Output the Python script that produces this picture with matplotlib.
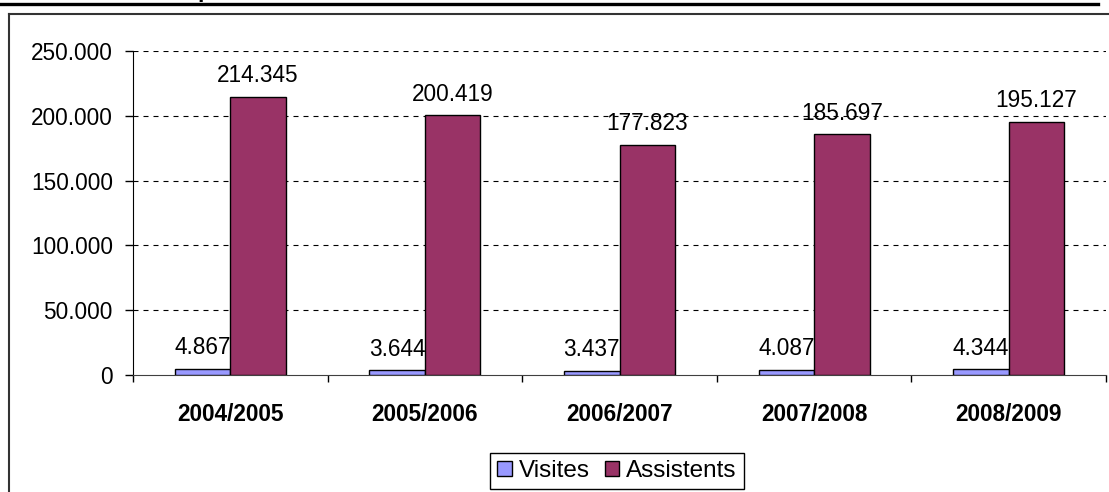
import matplotlib
matplotlib.use("Agg")
import matplotlib.pyplot as plt
from matplotlib.lines import Line2D
from matplotlib.ticker import FuncFormatter, FixedLocator
import numpy as np

# data
seasons = ["2004/2005", "2005/2006", "2006/2007", "2007/2008", "2008/2009"]
visites = [4867, 3644, 3437, 4087, 4344]
assistents = [214345, 200419, 177823, 185697, 195127]

col_vis = "#9999FF"
col_ass = "#993366"

plt.rcParams["font.family"] = ["Liberation Sans", "DejaVu Sans"]
fs = 16.3

fig = plt.figure(figsize=(11.09, 4.92), dpi=100)
ax = fig.add_axes([133 / 1109, 117 / 492, 973 / 1109, 324 / 492])

x = np.arange(len(seasons))
w = 0.285
b1 = ax.bar(x, visites, -w, align="edge", color=col_vis, edgecolor="black", linewidth=1, label="Visites", zorder=3)
b2 = ax.bar(x, assistents, w, align="edge", color=col_ass, edgecolor="black", linewidth=1, label="Assistents", zorder=3)

def dots(v, pos=None):
    return f"{int(v):,}".replace(",", ".")

for bars in (b1, b2):
    for r in bars:
        h = r.get_height()
        ax.annotate(dots(h), (r.get_x() + r.get_width() / 2, h), xytext=(0, 7),
                    textcoords="offset points", ha="center", va="bottom", fontsize=fs)

ax.set_xlim(-0.5, len(seasons) - 0.5)
ax.set_ylim(0, 250000)
ax.yaxis.set_major_locator(FixedLocator(np.arange(0, 250001, 50000)))
ax.yaxis.set_major_formatter(FuncFormatter(dots))
ax.tick_params(axis="y", direction="out", length=6, width=1, pad=8.5, labelsize=fs)

# category boundaries as ticks, labels in the middle
ax.xaxis.set_major_locator(FixedLocator(np.arange(-0.5, len(seasons), 1.0)))
ax.xaxis.set_major_formatter(FuncFormatter(lambda v, p: ""))
ax.xaxis.set_minor_locator(FixedLocator(x))
ax.set_xticklabels(seasons, minor=True, fontweight="bold", fontsize=fs)
ax.tick_params(axis="x", which="major", direction="out", length=5, width=1)
ax.tick_params(axis="x", which="minor", length=0, pad=20)

for y in range(50000, 250001, 50000):
    ax.axhline(y, color="black", lw=0.8, linestyle=(0, (4.5, 4.5)), zorder=1)

for s in ("top", "right"):
    ax.spines[s].set_visible(False)
ax.spines["left"].set_color("black")
ax.spines["bottom"].set_color("#404040")

leg = fig.legend(loc="center", bbox_to_anchor=(617 / 1109, 21 / 492), ncol=2, fontsize=17.5,
                 frameon=True, fancybox=False, edgecolor="black", framealpha=1,
                 handlelength=0.6, handleheight=0.6, handletextpad=0.3, columnspacing=0.6,
                 borderpad=0.3)
leg.get_frame().set_linewidth(1)

# outer chart frame and heading rule
fig.add_artist(Line2D([8.5 / 1109, 8.5 / 1109], [0, 1 - 13.5 / 492], color="#333333", lw=1.5, transform=fig.transFigure))
fig.add_artist(Line2D([8.5 / 1109, 1], [1 - 13.5 / 492, 1 - 13.5 / 492], color="#333333", lw=1.5, transform=fig.transFigure))
fig.add_artist(Line2D([0, 1098 / 1109], [1 - 4 / 492, 1 - 4 / 492], color="black", lw=2.4, transform=fig.transFigure))
fig.text(197 / 1109, 1 + 2.6 / 492, "p", fontsize=fs, fontweight="bold", ha="left", va="baseline")

fig.savefig("out.png", dpi=100)
